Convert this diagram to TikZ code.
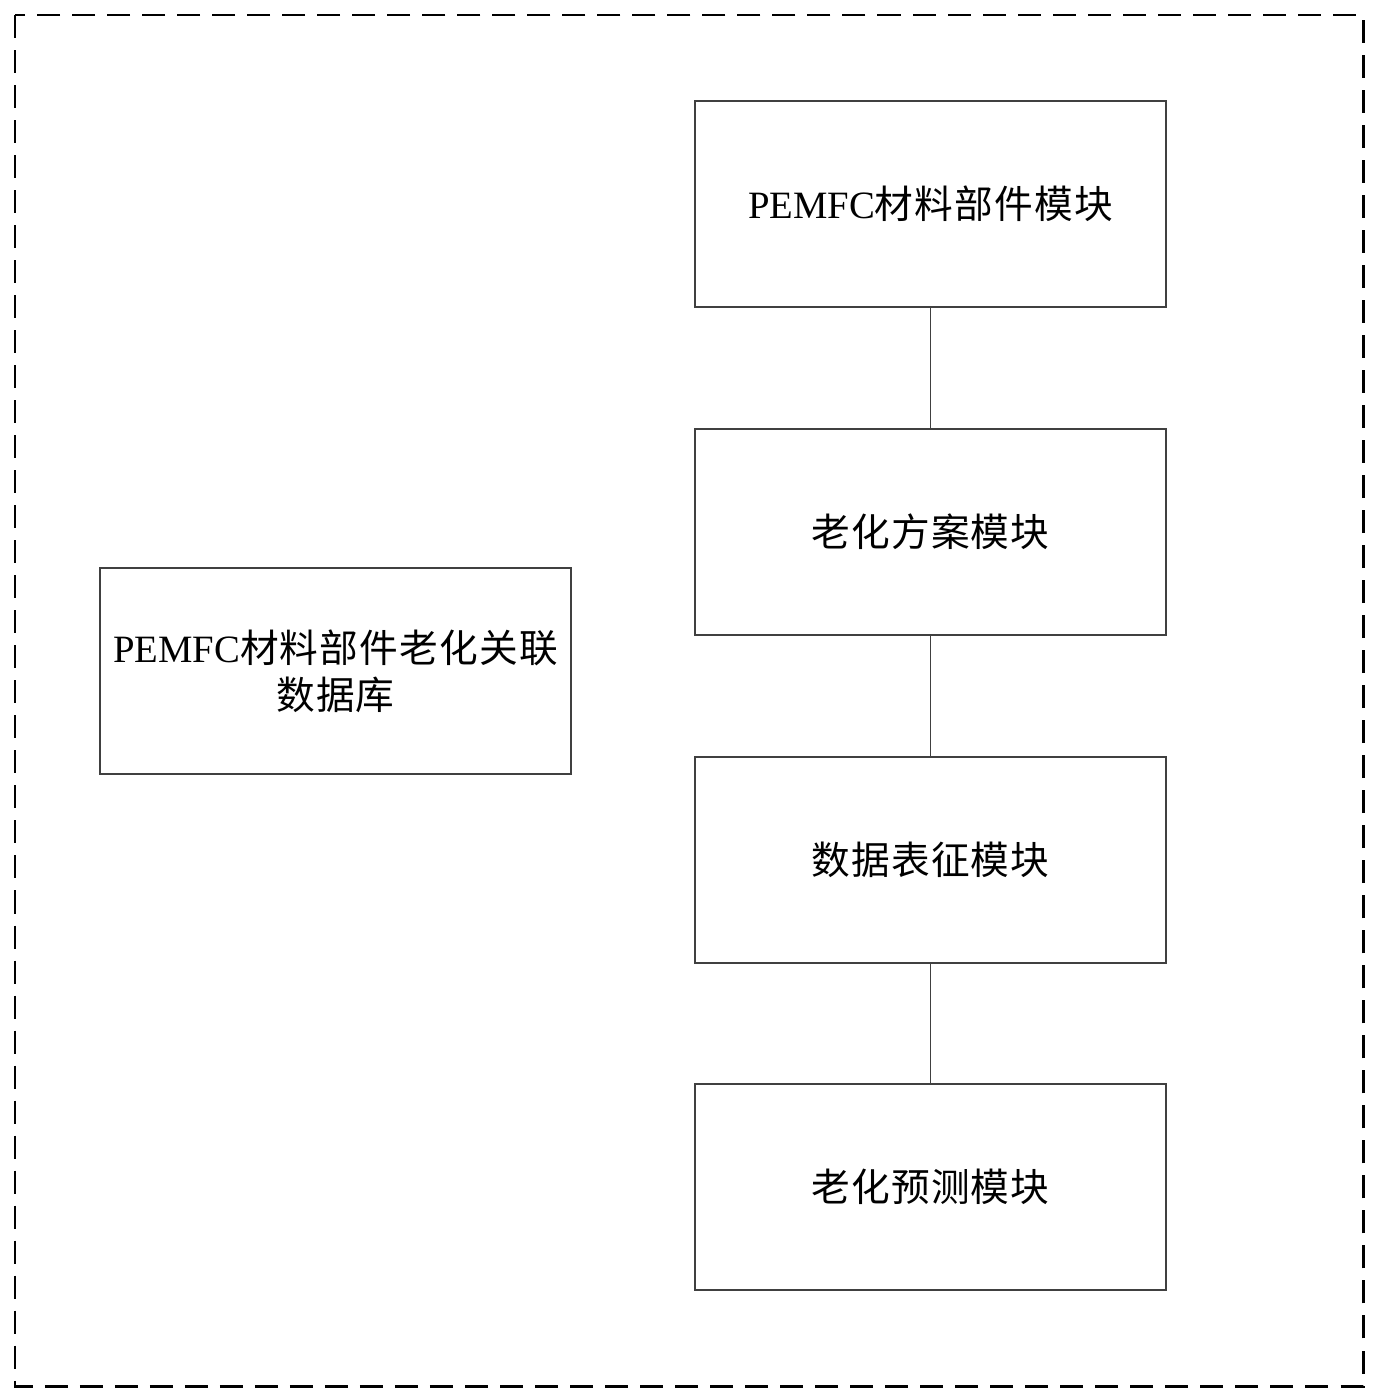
\documentclass[tikz,border=0pt]{standalone}
\usepackage{fontspec}
\setmainfont{Liberation Serif}
\newfontfamily\cjk[LetterSpace=3]{Noto Sans CJK SC}
\tikzset{
  module/.style = {draw = black!75, line width = 0.5pt, minimum width = 4.71cm, minimum height = 2.06cm,
    inner sep = 0pt, align = center, font = \fontsize{11}{13.3}\selectfont},
  link/.style = {draw = black!75, line width = 0.5pt}
}

\begin{document}
\begin{tikzpicture}[x = 0.01cm, y = -0.01cm]%
    \useasboundingbox (0, 0) rectangle (1379, 1400);
    % outer system frame
    \draw[line width = 0.85pt, dash pattern = on 0.23cm off 0.12cm] (15, 15) rectangle (1363, 1386);

    % database on the left
    \node[module] (db) at (335.5, 671) {PEMFC{\cjk 材料部件老化关联}\\{\cjk 数据库}};

    % chain of modules on the right
    \node[module] (material) at (930.5, 204) {PEMFC{\cjk 材料部件模块}};
    \node[module] (aging) at (930.5, 532) {{\cjk 老化方案模块}};
    \node[module] (charact) at (930.5, 860) {{\cjk 数据表征模块}};
    \node[module] (predict) at (930.5, 1187) {{\cjk 老化预测模块}};

    \draw[link] (material) -- (aging);
    \draw[link] (aging) -- (charact);
    \draw[link] (charact) -- (predict);
\end{tikzpicture}
\end{document}
